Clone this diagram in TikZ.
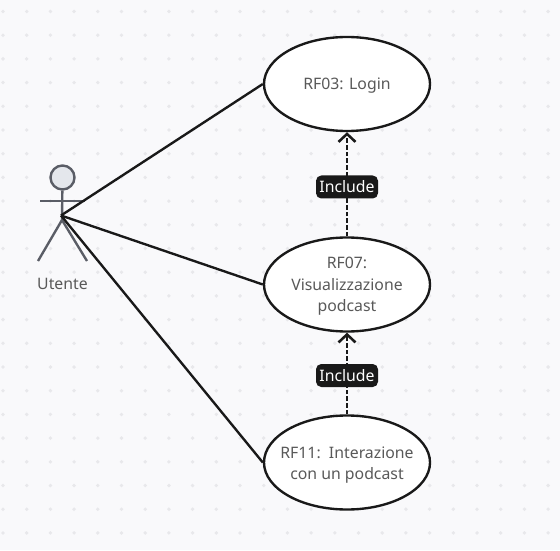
\documentclass[tikz,border=0pt]{standalone}
\usepackage{fontspec}
\setmainfont{Noto Sans}
\usepackage{xcolor}
\usetikzlibrary{positioning,arrows.meta,shapes.geometric}
\definecolor{sfondo}{HTML}{F9F9FB}
\definecolor{punto}{HTML}{E8E8EB}
\definecolor{grigio}{HTML}{5A5D66}
\definecolor{testa}{HTML}{E4E7EC}

\begin{document}
\begin{tikzpicture}[
  x=0.02cm, y=-0.02cm, font=\fontsize{9pt}{12.3pt}\selectfont,
  usecase/.style={ellipse, draw=black!90, fill=white, line width=1.35pt, align=center, text=black!65,
                  inner xsep=-14pt, inner ysep=-4pt, minimum width=166*0.02cm, minimum height=94*0.02cm},
  inc/.style={rectangle, rounded corners=3pt, fill=black!90, text=white, inner sep=0pt,
              minimum width=62*0.02cm, minimum height=23*0.02cm},
  actorline/.style={draw=grigio, line width=1.35pt},
  e/.style={line width=1.35pt, draw=black!90},
  d/.style={->, >={Straight Barb[length=1.6mm,width=3.4mm]}, line width=1.45pt, draw=black!90, dash pattern=on 2.6pt off 1.2pt},
]
\useasboundingbox (0,0) rectangle (560,550);
\fill[sfondo] (0,0) rectangle (560,550);
% griglia di punti
\foreach \i in {0,...,23}
  \foreach \j in {0,...,22}
    \fill[punto] ({3+23.7*\i},{11.5+23.7*\j}) circle (1.9);

% attore
\node[circle, draw=grigio, fill=testa, line width=1.35pt, minimum size=24*0.02cm, inner sep=0pt] (head) at (62.5,177.5) {};
\coordinate (hip) at (62,220);
\coordinate (utente) at (61,215.5);
\coordinate (armL) at (40,201);
\coordinate (armR) at (85,201);
\coordinate (legL) at (38,261);
\coordinate (legR) at (87,261);
\draw[actorline] (head) -- (hip);
\draw[actorline] (armL) -- (armR);
\draw[actorline] (hip) -- (legL);
\draw[actorline] (hip) -- (legR);
\node[text=black!65] (utentelbl) at (62.5,284) {Utente};

% casi d'uso
\node[usecase, text height=8.8pt] (rf03) at (347,84) {RF03: Login};
\node[usecase, text height=33.4pt] (rf07) at (347,284.5) {RF07:\\Visualizzazione\\podcast};
\node[usecase, text height=22pt] (rf11) at (347,462.5) {RF11:\ \ Interazione\\con un podcast};

\draw[e] (utente) -- (rf03.west);
\draw[e] (utente) -- (rf07.west);
\draw[e] (utente) -- (rf11.west);

\draw[d] (rf07.north) -- (rf03.south);
\draw[d] (rf11.north) -- (rf07.south);
\node[inc] (inc1) at (347,187) {Include};
\node[inc] (inc2) at (347,375.5) {Include};
\end{tikzpicture}
\end{document}
